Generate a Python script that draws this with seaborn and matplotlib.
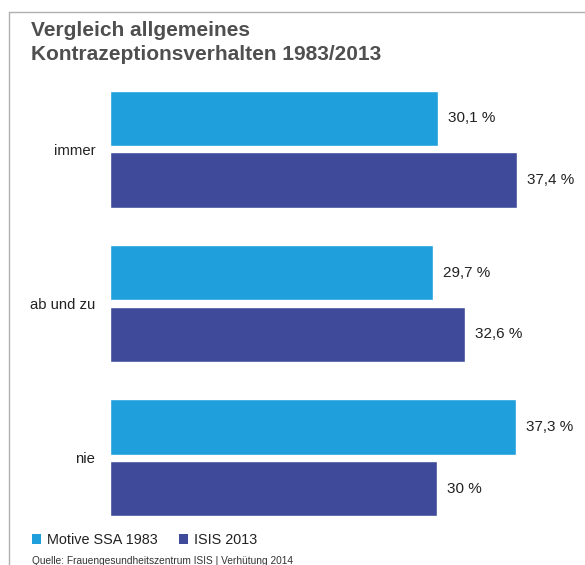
import pandas as pd
import seaborn as sns
import matplotlib.pyplot as plt
from matplotlib.patches import Patch
from matplotlib.lines import Line2D

# answers and shares in percent
categories = ["immer", "ab und zu", "nie"]
series = ["Motive SSA 1983", "ISIS 2013"]
ssa_1983 = [30.1, 29.7, 37.3]
isis_2013 = [37.4, 32.6, 30.0]

colors = ["#1f9fdb", "#3f4b9a"]

df = pd.DataFrame({
    "Antwort": categories * 2,
    "Studie": [series[0]] * 3 + [series[1]] * 3,
    "Prozent": ssa_1983 + isis_2013,
})

sns.set_theme(style="white")
plt.rcParams["font.family"] = ["Liberation Sans", "DejaVu Sans"]

W, H = 585, 565
fig = plt.figure(figsize=(W / 100, H / 100), dpi=100)
ax = fig.add_axes([110 / W, 1 - 535 / H, 468 / W, 463 / H])

sns.barplot(data=df, y="Antwort", x="Prozent", hue="Studie", order=categories,
            hue_order=series, palette=colors, width=0.8, gap=0.1,
            orient="h", ax=ax, legend=False, saturation=1)

ax.set_xlim(0, 43)
ax.set_ylim(2.5, -0.5)
ax.set_xlabel("")
ax.set_ylabel("")
ax.set_xticks([])
ax.tick_params(axis="y", length=0, pad=10.5, labelsize=10.7, labelcolor="#222222")
for s in ax.spines.values():
    s.set_visible(False)


def fmt(v):
    txt = f"{v:.0f}" if v == int(v) else f"{v:.1f}".replace(".", ",")
    return txt + " %"


for cont, vals in zip(ax.containers, [ssa_1983, isis_2013]):
    ax.bar_label(cont, labels=[fmt(v) for v in vals], padding=7.2,
                 fontsize=11, color="#222222", clip_on=False)

# title
fig.text(31 / W, 1 - 36 / H, "Vergleich allgemeines", fontsize=15, fontweight="bold",
         color="#4f4f4f", va="baseline", ha="left")
fig.text(31 / W, 1 - 60 / H, "Kontrazeptionsverhalten 1983/2013", fontsize=15,
         fontweight="bold", color="#4f4f4f", va="baseline", ha="left")

# legend
handles = [Patch(facecolor=c, edgecolor="none") for c in colors]
fig.legend(handles, series, loc="center left", bbox_to_anchor=(32 / W, 1 - 540 / H),
           ncol=2, frameon=False, fontsize=10.4, handlelength=0.62, handleheight=0.62,
           handletextpad=0.42, columnspacing=1.5, borderpad=0, borderaxespad=0,
           labelcolor="#222222")

# source
fig.text(32 / W, 1 - 561 / H, "Quelle: Frauengesundheitszentrum ISIS | Verhütung 2014",
         fontsize=7.3, color="#333333", va="center", ha="left")

# frame lines at top and left
fig.add_artist(Line2D([9 / W, 1], [1 - 11.5 / H, 1 - 11.5 / H], color="#b0b0b0", lw=1))
fig.add_artist(Line2D([9 / W, 9 / W], [0, 1 - 11.5 / H], color="#b0b0b0", lw=1))

fig.savefig("out.png", dpi=100)
